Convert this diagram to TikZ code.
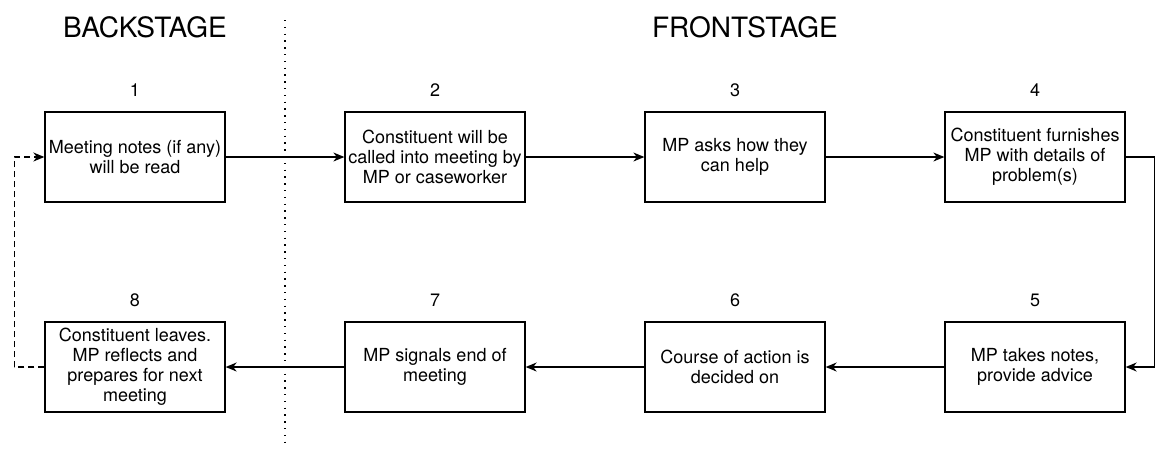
\documentclass[tikz,border=0pt]{standalone}
\usepackage{fontspec}
\setmainfont{TeX Gyre Heros}
\usetikzlibrary{arrows.meta}
\tikzset{
  stepbox/.style={draw,line width=1.3pt,minimum width=180pt,minimum height=90pt,align=center,inner sep=2pt,font=\fontsize{18pt}{20pt}\selectfont},
  num/.style={font=\fontsize{18pt}{20pt}\selectfont},
  stage/.style={font=\fontsize{28pt}{30pt}\selectfont},
  flow/.style={line width=1.3pt,-{Stealth[length=11pt,width=9pt,inset=3.5pt]}}
}
\begin{document}
\begin{tikzpicture}[x=1pt,y=-1pt]
    \useasboundingbox (0,0) rectangle (1158,448);
    \node[stage] (back) at (145,27) {BACKSTAGE};
    \node[stage] (front) at (745,27) {FRONTSTAGE};
    \draw[line width=1.3pt,dash pattern=on 1.3pt off 5.5pt] (285,20)--(285,442);
    \node[stepbox] (s1) at (135,157) {Meeting notes (if any)\\will be read};
    \node[stepbox] (s2) at (435,157) {Constituent will be\\called into meeting by\\MP or caseworker};
    \node[stepbox] (s3) at (735,157) {MP asks how they\\can help};
    \node[stepbox] (s4) at (1035,157) {Constituent furnishes\\MP with details of\\problem(s)};
    \node[stepbox] (s5) at (1035,367) {MP takes notes,\\provide advice};
    \node[stepbox] (s6) at (735,367) {Course of action is\\decided on};
    \node[stepbox] (s7) at (435,367) {MP signals end of\\meeting};
    \node[stepbox] (s8) at (135,367) {Constituent leaves.\\MP reflects and\\prepares for next\\meeting};
    \foreach \n in {1,...,8}
    \node[num,above=11pt] (n\n) at (s\n.north) {\n};
    \draw[flow] (s1)--(s2);
    \draw[flow] (s2)--(s3);
    \draw[flow] (s3)--(s4);
    \draw[flow] (s4.east)--++(29,0)|-(s5.east);
    \draw[flow] (s5)--(s6);
    \draw[flow] (s6)--(s7);
    \draw[flow] (s7)--(s8);
    \draw[flow,dash pattern=on 6pt off 4pt] (s8.west)--++(-30,0)|-(s1.west);
\end{tikzpicture}
\end{document}
